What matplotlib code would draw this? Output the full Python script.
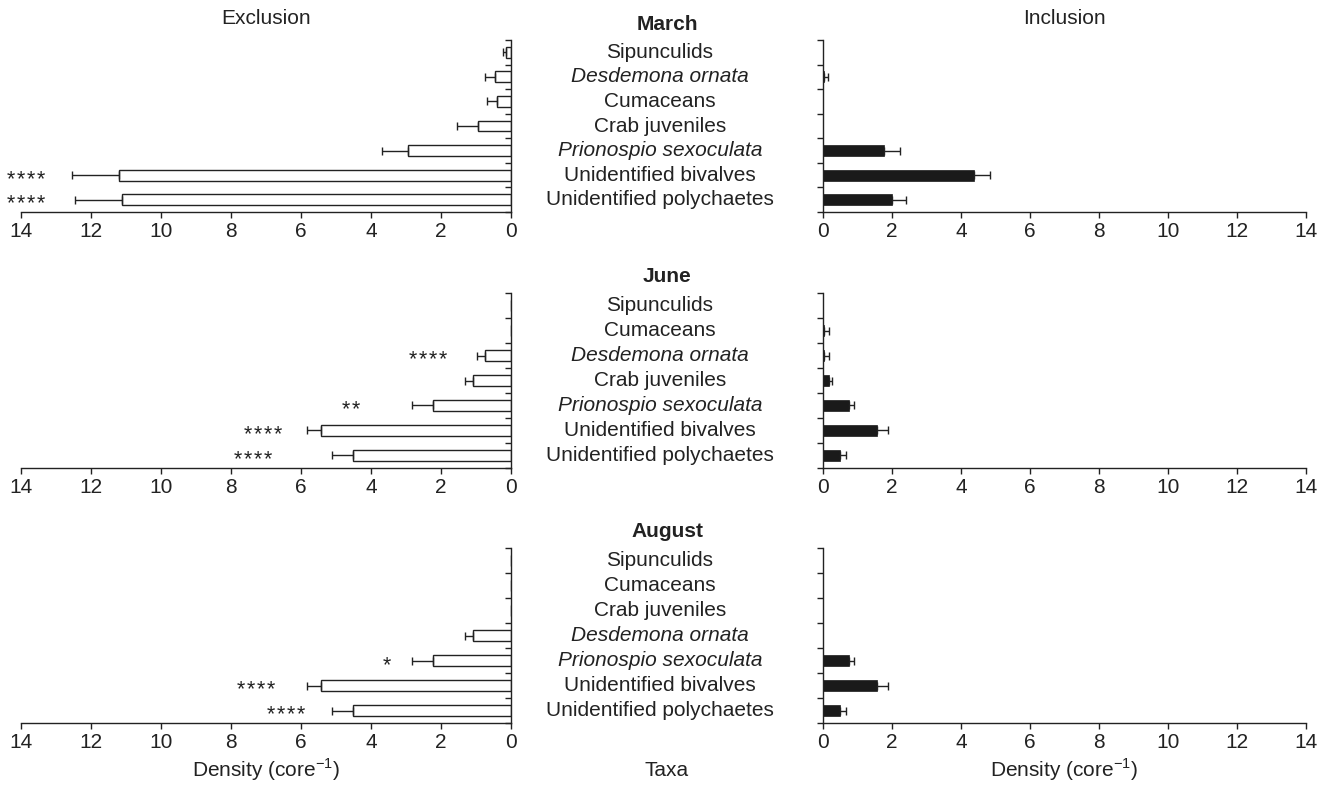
import numpy as np
import matplotlib
matplotlib.use("Agg")
import matplotlib.pyplot as plt
from matplotlib.transforms import blended_transform_factory

plt.rcParams['font.family'] = ['Liberation Sans', 'DejaVu Sans']
plt.rcParams['mathtext.fontset'] = 'custom'
plt.rcParams['mathtext.rm'] = 'Liberation Sans'

# taxa, top to bottom, per month
taxa_march = ['Sipunculids', 'Desdemona ornata', 'Cumaceans', 'Crab juveniles',
              'Prionospio sexoculata', 'Unidentified bivalves', 'Unidentified polychaetes']
taxa_june = ['Sipunculids', 'Cumaceans', 'Desdemona ornata', 'Crab juveniles',
             'Prionospio sexoculata', 'Unidentified bivalves', 'Unidentified polychaetes']
taxa_august = ['Sipunculids', 'Cumaceans', 'Crab juveniles', 'Desdemona ornata',
               'Prionospio sexoculata', 'Unidentified bivalves', 'Unidentified polychaetes']
italic_taxa = ['Desdemona ornata', 'Prionospio sexoculata']

# exclusion: mean density and SE
excl_march = [0.15, 0.46, 0.39, 0.94, 2.94, 11.21, 11.11]
excl_march_se = [0.09, 0.27, 0.30, 0.60, 0.75, 1.34, 1.34]
excl_june = [0, 0, 0.74, 1.09, 2.24, 5.42, 4.51]
excl_june_se = [0, 0, 0.22, 0.23, 0.58, 0.42, 0.61]
excl_august = [0, 0, 0, 1.09, 2.24, 5.42, 4.51]
excl_august_se = [0, 0, 0, 0.23, 0.58, 0.42, 0.61]

# inclusion: mean density and SE
incl_march = [0, 0.02, 0, 0, 1.78, 4.37, 1.99]
incl_march_se = [0, 0.13, 0, 0, 0.45, 0.46, 0.41]
incl_june = [0, 0.03, 0.03, 0.18, 0.74, 1.56, 0.49]
incl_june_se = [0, 0.15, 0.15, 0.07, 0.17, 0.32, 0.18]
incl_august = [0, 0, 0, 0, 0.74, 1.56, 0.49]
incl_august_se = [0, 0, 0, 0, 0.17, 0.32, 0.18]

# significance marks on the exclusion side
stars_march = ['', '', '', '', '', '****', '****']
stars_march_x = [0, 0, 0, 0, 0, 13.85, 13.85]
stars_june = ['', '', '****', '', '**', '****', '****']
stars_june_x = [0, 0, 2.38, 0, 4.58, 7.07, 7.36]
stars_august = ['', '', '', '', '*', '****', '****']
stars_august_x = [0, 0, 0, 0, 3.56, 7.28, 6.43]

months = ['March', 'June', 'August']
rows = [
    (taxa_march, excl_march, excl_march_se, incl_march, incl_march_se, stars_march, stars_march_x),
    (taxa_june, excl_june, excl_june_se, incl_june, incl_june_se, stars_june, stars_june_x),
    (taxa_august, excl_august, excl_august_se, incl_august, incl_august_se, stars_august, stars_august_x),
]

W, H = 1333, 789
fig = plt.figure(figsize=(W / 100, H / 100), dpi=100)

row_px = [(40, 212), (293, 468), (548, 723)]  # top, bottom
left_px = (21, 511)
right_px = (823, 1306)
bar_h = 0.44
fs = 15
ink = '#222222'

def add_ax(xpx, ypx):
    return fig.add_axes([xpx[0] / W, 1 - ypx[1] / H, (xpx[1] - xpx[0]) / W, (ypx[1] - ypx[0]) / H])

def style(ax, side):
    n = 7
    ax.set_ylim(n - 0.5, -0.5)
    ax.set_xticks(np.arange(0, 15, 2))
    ax.set_yticks(np.arange(-0.5, n, 1))
    ax.set_yticklabels([])
    ax.spines['top'].set_visible(False)
    for s in ax.spines.values():
        s.set_linewidth(1.0)
        s.set_color(ink)
    ax.tick_params(axis='x', direction='out', length=4, width=1.0, labelsize=fs, pad=3,
                   colors=ink)
    if side == 'left':
        ax.set_xlim(14, 0)
        ax.spines['left'].set_visible(False)
        ax.yaxis.tick_right()
        ax.tick_params(axis='y', direction='in', length=4, width=1.0, colors=ink)
    else:
        ax.set_xlim(0, 14)
        ax.spines['right'].set_visible(False)
        ax.tick_params(axis='y', direction='out', length=4, width=1.0, colors=ink)

for r, (taxa, ex, ex_se, inc, inc_se, stars, stars_x) in enumerate(rows):
    y = np.arange(len(taxa))
    axl = add_ax(left_px, row_px[r])
    axr = add_ax(right_px, row_px[r])

    axl.barh(y, ex, height=bar_h, color='white', edgecolor=ink, linewidth=1.0)
    axr.barh(y, inc, height=bar_h, color='#1a1a1a', edgecolor='#1a1a1a', linewidth=0.5)

    for ax, vals, se in [(axl, ex, ex_se), (axr, inc, inc_se)]:
        idx = [i for i in range(len(vals)) if se[i] > 0]
        ax.errorbar([vals[i] for i in idx], [y[i] for i in idx],
                    xerr=[[0] * len(idx), [se[i] for i in idx]],
                    fmt='none', ecolor=ink, elinewidth=1.0, capsize=3, capthick=1.0)

    for i, s in enumerate(stars):
        if s:
            axl.text(stars_x[i], y[i] + 0.2, '\u200a'.join(s), ha='center', va='center',
                     fontsize=15.5, color=ink)

    style(axl, 'left')
    style(axr, 'right')

    tr = blended_transform_factory(fig.transFigure, axl.transData)
    for i, name in enumerate(taxa):
        axl.text(660 / W, y[i], name, transform=tr, ha='center', va='center', fontsize=fs,
                 style='italic' if name in italic_taxa else 'normal', color=ink, clip_on=False)
    axl.text(667 / W, -1.15, months[r], transform=tr, ha='center', va='center',
             fontsize=fs, fontweight='bold', color=ink, clip_on=False)

fig.text((left_px[0] + left_px[1]) / 2 / W, 1 - 18 / H, 'Exclusion', ha='center', va='center', fontsize=fs, color=ink)
fig.text((right_px[0] + right_px[1]) / 2 / W, 1 - 18 / H, 'Inclusion', ha='center', va='center', fontsize=fs, color=ink)
fig.text((left_px[0] + left_px[1]) / 2 / W, 1 - 770 / H, r'Density (core$^{-1}$)', ha='center', va='center', fontsize=fs, color=ink)
fig.text((right_px[0] + right_px[1]) / 2 / W, 1 - 770 / H, r'Density (core$^{-1}$)', ha='center', va='center', fontsize=fs, color=ink)
fig.text(667 / W, 1 - 770 / H, 'Taxa', ha='center', va='center', fontsize=fs, color=ink)

fig.savefig('out.png', dpi=100)
